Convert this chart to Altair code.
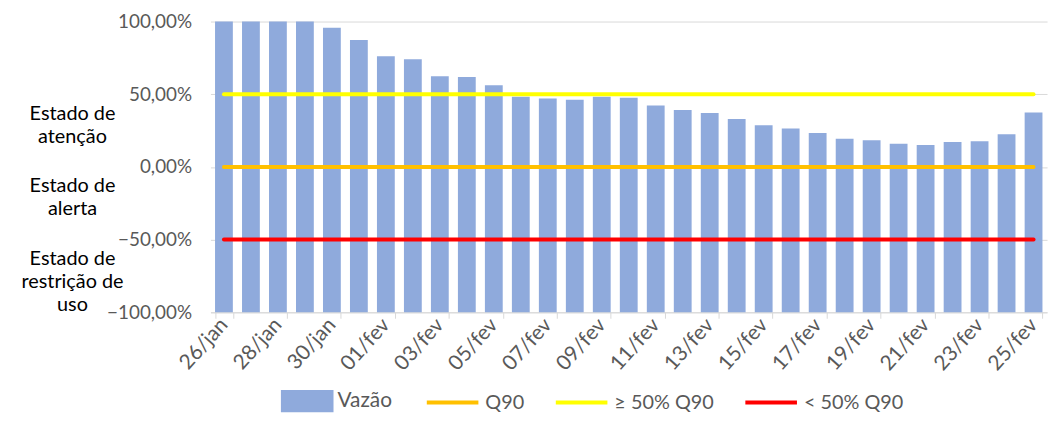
import altair as alt
import pandas as pd

# ---- data -------------------------------------------------------------
datas = ["26/jan", "27/jan", "28/jan", "29/jan", "30/jan", "31/jan",
         "01/fev", "02/fev", "03/fev", "04/fev", "05/fev", "06/fev",
         "07/fev", "08/fev", "09/fev", "10/fev", "11/fev", "12/fev",
         "13/fev", "14/fev", "15/fev", "16/fev", "17/fev", "18/fev",
         "19/fev", "20/fev", "21/fev", "22/fev", "23/fev", "24/fev",
         "25/fev"]
vazao = [100, 100, 100, 100, 95.7, 87.3, 76.2, 74.1, 62.3, 61.8, 56.2,
         48.2, 47.0, 46.2, 48.3, 47.6, 42.3, 39.1, 37.1, 33.0, 28.6,
         26.4, 23.4, 19.3, 18.4, 15.9, 15.0, 17.1, 17.7, 22.5, 37.5]

limites_nomes = ["Q90", "≥ 50% Q90", "< 50% Q90"]
limites_valores = [0, 50, -50]
limites_cores = ["#FFC000", "#FFFF00", "#FF0000"]

estados_texto = ["Estado de\natenção", "Estado de\nalerta", "Estado de\nrestrição de\nuso"]
estados_y = [36.3, -13.5, -63.6]

rotulos_x = datas[::2]
y_ticks = [-100, -50, 0, 50, 100]

# ---- tables -----------------------------------------------------------
df_bar = pd.DataFrame({"data": datas, "valor": vazao, "serie": "Vazão"})
df_lin = pd.DataFrame([
    {"data": d, "valor": v, "serie": n}
    for n, v in zip(limites_nomes, limites_valores) for d in datas
])
df_txt = pd.DataFrame({"txt": estados_texto, "y": estados_y})

FONT = "Lato"
GRAY = "#595959"

x_enc = alt.X(
    "data:N", sort=datas,
    scale=alt.Scale(paddingInner=0.34, paddingOuter=0.17),
    axis=alt.Axis(values=rotulos_x, labelAngle=-48, labelAlign="right",
                  labelBaseline="middle", tickBand="extent", tickSize=6,
                  tickColor="#D9D9D9", domainColor="#D9D9D9", labelPadding=3,
                  labelColor=GRAY, labelFont=FONT, labelFontSize=21,
                  grid=False, title=None),
)
y_scale = alt.Scale(domain=[-100, 100], nice=False)
y_axis = alt.Axis(values=y_ticks,
                  labelExpr="replace(format(datum.value, '.2f'), '.', ',') + '%'",
                  grid=True, gridColor="#D9D9D9", domain=False, ticks=False,
                  labelColor=GRAY, labelFont=FONT, labelFontSize=19,
                  labelPadding=19, title=None)

bars = alt.Chart(df_bar).mark_bar().encode(
    x=x_enc,
    y=alt.Y("valor:Q", scale=y_scale, axis=y_axis),
    y2=alt.datum(-100),
    fill=alt.Fill("serie:N",
                  scale=alt.Scale(domain=["Vazão"], range=["#8FAADC"]),
                  legend=alt.Legend(orient="none", legendX=71, legendY=356,
                                    title=None, symbolType="M-1,-0.42L1,-0.42L1,0.42L-1,0.42Z",
                                    symbolSize=2809, symbolStrokeWidth=0,
                                    labelOffset=4, padding=0,
                                    labelColor=GRAY, labelFont=FONT,
                                    labelFontSize=21)),
)

lines = alt.Chart(df_lin).mark_line(strokeWidth=4, strokeCap="round").encode(
    x=alt.X("data:N", sort=datas),
    y=alt.Y("valor:Q", scale=y_scale),
    stroke=alt.Stroke("serie:N",
                      scale=alt.Scale(domain=limites_nomes, range=limites_cores),
                      sort=limites_nomes,
                      legend=alt.Legend(orient="none", legendX=216, legendY=356,
                                        direction="horizontal", title=None,
                                        symbolType="stroke", symbolSize=2704,
                                        symbolStrokeWidth=4, columnPadding=23,
                                        labelOffset=5, padding=0,
                                        labelColor=GRAY, labelFont=FONT,
                                        labelFontSize=20)),
    detail="serie:N",
)

texts = alt.Chart(df_txt).mark_text(
    align="center", baseline="middle", lineBreak="\n", lineHeight=23,
    font=FONT, fontSize=20, color="#000000",
).encode(
    x=alt.value(-139),
    y=alt.Y("y:Q", scale=y_scale),
    text="txt:N",
)

chart = alt.layer(bars, lines, texts).properties(
    width=843, height=293,
    autosize=alt.AutoSizeParams(type="none"),
    padding={"left": 204, "top": 12, "right": 6, "bottom": 120},
).configure_view(stroke=None)

chart.save("out.html", embed_options={"renderer": "svg", "actions": False})
